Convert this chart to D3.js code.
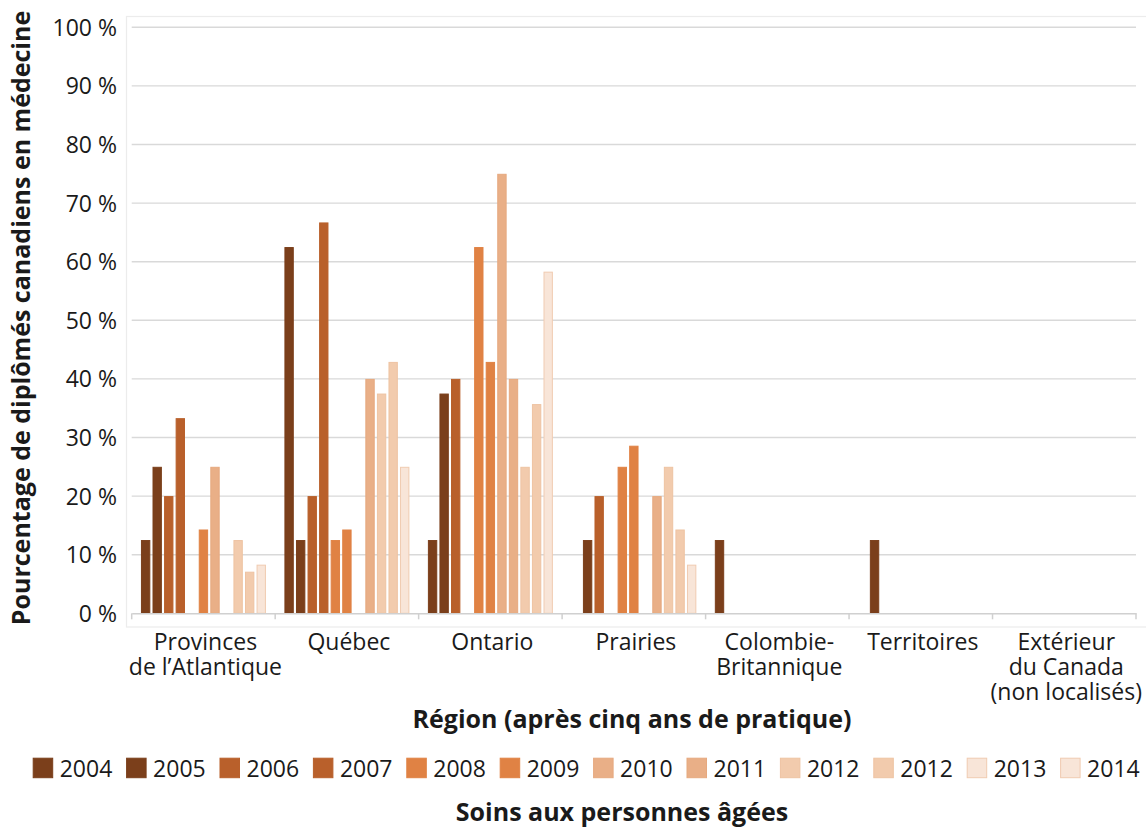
<!DOCTYPE html>
<html>
<head>
<meta charset="utf-8">
<script src="https://cdn.jsdelivr.net/npm/d3@7"></script>
<style>
  html, body { margin: 0; padding: 0; background: #fff; }
  svg { display: block; font-family: "Open Sans", "Noto Sans", sans-serif; }
</style>
</head>
<body>
<svg id="chart" width="1146" height="829"></svg>
<script>
// Regions (x categories), label lines per region
const regions = [
  ["Provinces", "de l’Atlantique"],
  ["Québec"],
  ["Ontario"],
  ["Prairies"],
  ["Colombie-", "Britannique"],
  ["Territoires"],
  ["Extérieur", "du Canada", "(non localisés)"]
];

// Legend labels of the series (cohort years)
const seriesLabels = ["2004", "2005", "2006", "2007", "2008", "2009", "2010", "2011", "2012", "2012", "2013", "2014"];

// Series values (%), one entry per region; null = no bar
const v2004  = [12.5, 62.5, 12.5, null, 12.5, null, null];
const v2005  = [25,   12.5, 37.5, 12.5, null, 12.5, null];
const v2006  = [20,   20,   40,   20,   null, null, null];
const v2007  = [33.3, 66.7, null, null, null, null, null];
const v2008  = [null, 12.5, 62.5, 25,   null, null, null];
const v2009  = [14.3, 14.3, 42.9, 28.6, null, null, null];
const v2010  = [25,   null, 75,   null, null, null, null];
const v2011  = [null, 40,   40,   20,   null, null, null];
const v2012a = [12.5, 37.5, 25,   25,   null, null, null];
const v2012b = [7.1,  42.9, 35.7, 14.3, null, null, null];
const v2013  = [8.3,  25,   58.3, 8.3,  null, null, null];
const v2014  = [null, null, null, null, null, null, null];

const seriesValues = [v2004, v2005, v2006, v2007, v2008, v2009, v2010, v2011, v2012a, v2012b, v2013, v2014];

// Y axis ticks
const yTicks = [0, 10, 20, 30, 40, 50, 60, 70, 80, 90, 100];

// Palette: pairs of years share a shade
const fills   = ["#7b3f1b", "#7b3f1b", "#b9602b", "#b9602b", "#e08244", "#e08244",
                 "#e9af87", "#e9af87", "#f2cbad", "#f2cbad", "#f8e5d8", "#f8e5d8"];
const strokes = ["#7b3f1b", "#7b3f1b", "#b9602b", "#b9602b", "#e08244", "#e08244",
                 "#e6a97f", "#e6a97f", "#eec3a2", "#eec3a2", "#f0cbb1", "#f0cbb1"];

const svg = d3.select("#chart");
const margin = { left: 131.7, right: 1136, top: 27.3, bottom: 613.3 };

const x0 = d3.scaleBand()
  .domain(d3.range(regions.length))
  .range([margin.left, margin.right])
  .paddingInner(0).paddingOuter(0);

// Only series with at least one value take a slot inside each group
const plotted = d3.range(seriesLabels.length).filter(i => seriesValues[i].some(v => v != null));
const x1 = d3.scaleBand()
  .domain(plotted)
  .range([0, x0.bandwidth()])
  .paddingInner(0.19)
  .paddingOuter(0.8);

const y = d3.scaleLinear().domain([0, 100]).range([margin.bottom, margin.top]);

// Plot frame
svg.append("rect")
  .attr("x", 126.5).attr("y", 16.5)
  .attr("width", 1146 - 126.5 + 5).attr("height", 627 - 16.5)
  .attr("fill", "none").attr("stroke", "#ececec").attr("stroke-width", 1.2);

// Gridlines
svg.append("g")
  .selectAll("line")
  .data(yTicks.filter(d => d > 0))
  .join("line")
  .attr("x1", margin.left).attr("x2", margin.right)
  .attr("y1", d => y(d)).attr("y2", d => y(d))
  .attr("stroke", "#d9d9d9").attr("stroke-width", 1.4);

// Y axis labels
const yAxis = d3.axisLeft(y).tickValues(yTicks).tickSize(0).tickPadding(0)
  .tickFormat(d => d + "\u00a0%");
const gy = svg.append("g").attr("transform", "translate(117,0)").call(yAxis);
gy.select(".domain").remove();
gy.selectAll("text")
  .attr("font-size", 23).attr("fill", "#1a1a1a")
  .attr("font-family", "\"Open Sans\", sans-serif")
  .attr("dy", "0.35em");

// Bars
const groups = svg.append("g")
  .selectAll("g")
  .data(regions.map((r, ri) => ri))
  .join("g")
  .attr("transform", ri => `translate(${x0(ri)},0)`);

groups.selectAll("rect")
  .data(ri => plotted
    .filter(si => seriesValues[si][ri] != null)
    .map(si => ({ si, v: seriesValues[si][ri] })))
  .join("rect")
  .attr("x", d => x1(d.si) + 0.5)
  .attr("width", x1.bandwidth() - 1)
  .attr("y", d => y(d.v) + 0.5)
  .attr("height", d => y(0) - y(d.v) - 0.5)
  .attr("fill", d => fills[d.si])
  .attr("stroke", d => strokes[d.si])
  .attr("stroke-width", 1);

// X axis line and boundary ticks
const xAxis = d3.axisBottom(x0).tickSize(0).tickFormat("");
const gx = svg.append("g").attr("transform", `translate(0,${margin.bottom})`).call(xAxis);
gx.select(".domain").attr("stroke", "#d0d0d0").attr("stroke-width", 1.5);
gx.selectAll(".tick").remove();
gx.selectAll("line.bound")
  .data(d3.range(regions.length + 1))
  .join("line")
  .attr("class", "bound")
  .attr("x1", i => margin.left + i * x0.step())
  .attr("x2", i => margin.left + i * x0.step())
  .attr("y1", 0).attr("y2", 6)
  .attr("stroke", "#d0d0d0").attr("stroke-width", 1.5);

// Category labels, one text element per line
const labelLines = regions.flatMap((lines, ri) => lines.map((t, li) => ({ t, ri, li })));
svg.append("g")
  .selectAll("text")
  .data(labelLines)
  .join("text")
  .attr("x", d => x0(d.ri) + x0.bandwidth() / 2 + 2)
  .attr("y", d => 650 + d.li * 25)
  .attr("text-anchor", "middle")
  .attr("font-size", 23)
  .attr("fill", "#1a1a1a")
  .text(d => d.t);

// Axis titles
svg.append("text")
  .attr("x", 632).attr("y", 728)
  .attr("text-anchor", "middle")
  .attr("font-size", 25).attr("font-weight", 700).attr("fill", "#1a1a1a")
  .text("Région (après cinq ans de pratique)");

svg.append("text")
  .attr("transform", "translate(30,318) rotate(-90)")
  .attr("text-anchor", "middle")
  .attr("font-size", 25).attr("font-weight", 700).attr("fill", "#1a1a1a")
  .text("Pourcentage de diplômés canadiens en médecine");

// Legend
const legend = svg.append("g")
  .selectAll("g")
  .data(seriesLabels.map((l, i) => ({ l, i })))
  .join("g")
  .attr("transform", d => `translate(${32.7 + d.i * 93.4},757.7)`);
legend.append("rect")
  .attr("x", 0.5).attr("y", 0.5)
  .attr("width", 19.5).attr("height", 19.5)
  .attr("fill", d => fills[d.i])
  .attr("stroke", d => strokes[d.i]);
legend.append("text")
  .attr("x", 27).attr("y", 19)
  .attr("font-size", 23).attr("fill", "#1a1a1a")
  .text(d => d.l);

// Chart title at the bottom
svg.append("text")
  .attr("x", 622).attr("y", 821)
  .attr("text-anchor", "middle")
  .attr("font-size", 25).attr("font-weight", 700).attr("fill", "#1a1a1a")
  .text("Soins aux personnes âgées");
</script>
</body>
</html>
